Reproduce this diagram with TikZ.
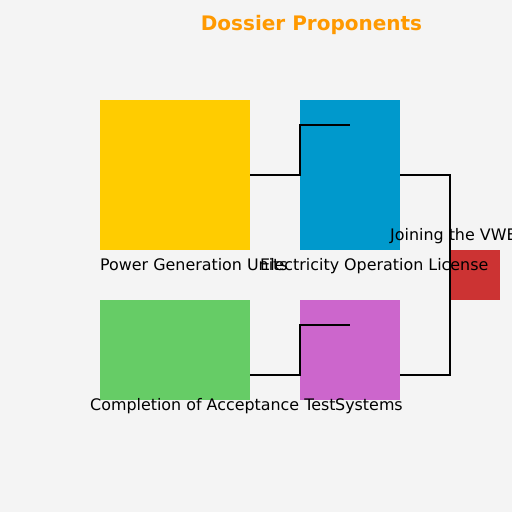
\documentclass[tikz,border=0pt]{standalone}
\usepackage{fontspec}
\setmainfont{DejaVu Sans}
\definecolor{bg}{HTML}{F4F4F4}
\definecolor{cyellow}{HTML}{FFCC00}
\definecolor{cblue}{HTML}{0099CC}
\definecolor{cgreen}{HTML}{66CC66}
\definecolor{cpurple}{HTML}{CC66CC}
\definecolor{cred}{HTML}{CC3333}
\definecolor{corange}{HTML}{FF9900}
\tikzset{
  blk/.style={draw=none, inner sep=0pt, outer sep=0pt, anchor=north west},
  lbl/.style={inner sep=0pt, anchor=base west, font=\fontsize{15.9pt}{19pt}\selectfont, text=black},
  link/.style={draw=black, line width=2pt},
}
\begin{document}
\begin{tikzpicture}[x=1pt,y=-1pt]
\fill[bg] (0,0) rectangle (512,512);
\useasboundingbox (0,0) rectangle (512,512);
\begin{scope}
\clip (0,0) rectangle (512,512);
\node[font=\bfseries\fontsize{20pt}{24pt}\selectfont, text=corange, anchor=base, inner sep=0pt] (title) at (311.5,30) {Dossier Proponents};
\node[blk, fill=cyellow, minimum width=150pt, minimum height=150pt] (pgu) at (100,100) {};
\node[blk, fill=cblue, minimum width=100pt, minimum height=150pt] (eol) at (300,100) {};
\node[blk, fill=cgreen, minimum width=150pt, minimum height=100pt] (cat) at (100,300) {};
\node[blk, fill=cpurple, minimum width=100pt, minimum height=100pt] (sys) at (300,300) {};
\node[blk, fill=cred, minimum width=50pt, minimum height=50pt] (vwe) at (450,250) {};
\coordinate (e1) at (350,125);
\coordinate (e2) at (350,325);
\draw[link] (pgu.east) -- (300,175) -- (300,125) -- (e1);
\draw[link] (cat.east |- 0,375) -- (300,375) -- (300,325) -- (e2);
\draw[link] (eol.east) -- (450,175) |- (sys.east |- 0,375);
\node[lbl] (l1) at (100,270) {Power Generation Units};
\node[lbl] (l2) at (260,270) {Electricity Operation License};
\node[lbl] (l3) at (390,240) {Joining the VWE};
\node[lbl] (l4) at (90,410) {Completion of Acceptance Test};
\node[lbl] (l5) at (335,410) {Systems};
\end{scope}
\end{tikzpicture}
\end{document}
